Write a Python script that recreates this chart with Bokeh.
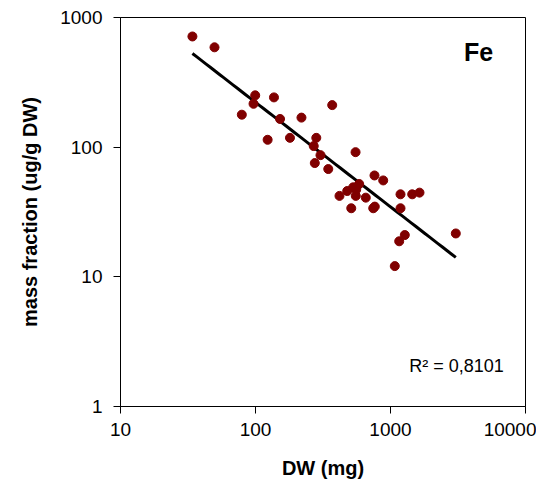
import numpy as np
from bokeh.plotting import figure
from bokeh.models import Range1d, FixedTicker, NumeralTickFormatter, Label, ColumnDataSource
from bokeh.embed import file_html
from bokeh.resources import INLINE

# Data (DW in mg, mass fraction in ug/g DW)
dw_mg = [34.1, 49.7, 79.2, 96.7, 99.5, 123, 137, 152, 180, 219,
         270, 282, 275, 303, 346, 370, 551, 419, 478, 529,
         557, 586, 553, 656, 512, 745, 765, 761, 883, 1186,
         1448, 1640, 1186, 1276, 1160, 1076, 3046]
fe_mass_fraction = [714, 589, 178, 216, 251, 114, 242, 165, 118, 169,
                    102, 118, 75.4, 86.8, 67.8, 211, 91.5, 42.1, 45.9, 49.0,
                    47.0, 52.0, 42.1, 40.8, 33.8, 33.8, 34.8, 60.5, 55.4, 43.3,
                    43.3, 44.6, 33.8, 21.0, 18.8, 12.1, 21.6]

x_ticks = [10, 100, 1000, 10000]
y_ticks = [1, 10, 100, 1000]
element_label = "Fe"
r2_text = "R\u00b2 = 0,8101"

# Power trendline (least squares in log-log space, as Excel does)
lx = np.log10(dw_mg)
ly = np.log10(fe_mass_fraction)
slope, intercept = np.polyfit(lx, ly, 1)
trend_x = np.logspace(lx.min(), lx.max(), 60)
trend_y = 10 ** (intercept + slope * np.log10(trend_x))

p = figure(width=536, height=481, x_axis_type="log", y_axis_type="log",
           x_range=Range1d(10, 10000), y_range=Range1d(1, 1000),
           output_backend="svg", toolbar_location=None,
           min_border_left=120, min_border_right=11, min_border_top=17, min_border_bottom=73)

p.background_fill_color = "white"
p.border_fill_color = "white"
p.outline_line_color = "black"
p.outline_line_width = 1
p.grid.visible = False

p.line(trend_x, trend_y, line_color="black", line_width=3)
src = ColumnDataSource(dict(x=dw_mg, y=fe_mass_fraction))
p.scatter("x", "y", source=src, size=9, fill_color="#800000", line_color="#800000")

for ax, ticks in ((p.xaxis[0], x_ticks), (p.yaxis[0], y_ticks)):
    ax.ticker = FixedTicker(ticks=ticks, minor_ticks=[])
    ax.formatter = NumeralTickFormatter(format="0")
    ax.major_tick_out = 7
    ax.major_tick_in = 0
    ax.minor_tick_line_color = None
    ax.axis_line_color = "black"
    ax.major_tick_line_color = "black"
    ax.major_label_text_font = "Liberation Sans"
    ax.major_label_text_font_size = "19px"
    ax.major_label_text_color = "black"
    ax.axis_label_text_font = "Liberation Sans"
    ax.axis_label_text_font_size = "20px"
    ax.axis_label_text_font_style = "bold"
    ax.axis_label_text_color = "black"

p.xaxis.axis_label = "DW (mg)"
p.yaxis.axis_label = "mass fraction (ug/g DW)"
p.xaxis.major_label_standoff = 9
p.xaxis.axis_label_standoff = 18
p.yaxis.major_label_standoff = 11
p.yaxis.axis_label_standoff = 16

p.add_layout(Label(x=4487, y=543, text=element_label, text_align="center", text_baseline="middle",
                   text_font="Liberation Sans", text_font_size="25px", text_font_style="bold",
                   text_color="black"))
p.add_layout(Label(x=3083, y=2.04, text=r2_text, text_align="center", text_baseline="middle",
                   text_font="Liberation Sans", text_font_size="18px", text_color="black"))

open("out.html", "w").write(file_html(p, INLINE))
